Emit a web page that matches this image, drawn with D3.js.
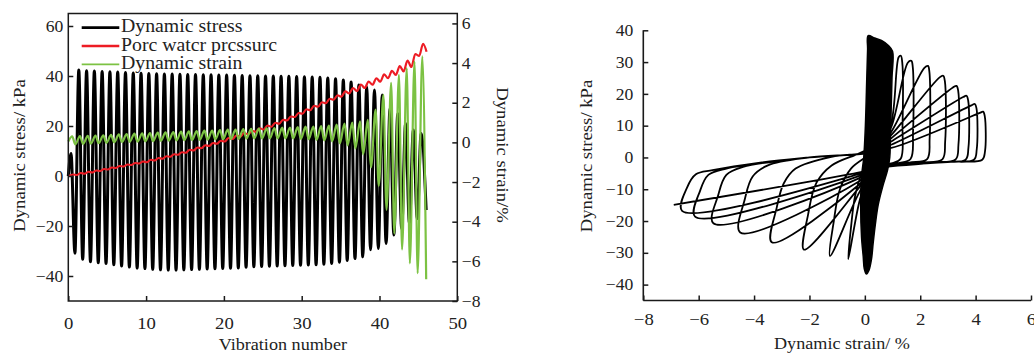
<!DOCTYPE html>
<html>
<head>
<meta charset="utf-8">
<script src="https://cdn.jsdelivr.net/npm/d3@7"></script>
<style>
  body { margin: 0; background: #fff; }
  text { font-family: "Liberation Serif", "Times New Roman", serif; fill: #222; }
</style>
</head>
<body>
<svg id="chart" width="1034" height="354"></svg>
<script>
// ---- left panel: time histories (one value per cycle) ----
const seriesNames = ['Dynamic stress', 'Porc watcr prcssurc', 'Dynamic strain'];
const seriesColors = ['#000000', '#ed1c24', '#7cc243'];

// dynamic stress (kPa): peak and trough of each vibration cycle
const stressPeak = [9, 42.4, 42.1, 42.0, 41.8, 41.7, 41.6, 41.4, 41.2, 41.1, 41.0, 40.9, 40.8, 40.8, 40.7, 40.6,
  40.6, 40.5, 40.5, 40.4, 40.4, 40.3, 40.2, 40.1, 40.1, 40.0, 40.0, 39.9, 39.9, 39.8, 39.7, 39.6, 39.5, 39.2,
  38.9, 38.4, 37.6, 36.4, 35.7, 34.4, 32.4, 27.0, 25.0, 21.0, 18.4, 17.0];
const stressTrough = [-30.9, -33.3, -34.3, -34.7, -35.0, -35.5, -36.0, -36.4, -36.8, -37.0, -37.3, -37.5, -37.6,
  -37.6, -37.5, -37.4, -37.3, -37.2, -37.1, -37.0, -36.9, -36.8, -36.5, -36.3, -36.2, -36.1, -36.0, -35.9, -35.8,
  -35.7, -35.6, -35.5, -35.3, -35.0, -34.5, -33.8, -33.0, -32.3, -29.5, -29.0, -27.0, -23.6, -21.0, -19.0, -17.0];
const stressStart = [0, 0];
const stressEnd = [46.0, -13.6];

// pore water pressure (kPa): low and high of each cycle
const poreLow = [0.0, 0.4, 0.9, 1.4, 2.0, 2.6, 3.2, 3.8, 4.4, 5.0, 5.5, 6.2, 6.9, 7.7, 8.5, 9.3, 10.2, 11.1, 12.0,
  12.9, 13.8, 14.8, 15.8, 16.7, 17.7, 18.6, 19.7, 20.9, 22.2, 23.6, 24.9, 26.3, 27.7, 29.1, 30.5, 31.7, 33.0, 34.0,
  35.2, 36.5, 37.7, 39.1, 40.4, 41.8, 43.6, 48.0];
const poreHigh = [0.6, 1.2, 1.7, 2.2, 2.8, 3.4, 4.0, 4.6, 5.2, 5.8, 6.5, 7.2, 7.9, 8.7, 9.5, 10.5, 11.4, 12.3, 13.2,
  14.1, 15.2, 16.2, 17.2, 18.1, 19.1, 20.2, 21.3, 22.5, 23.8, 25.2, 26.7, 28.1, 29.5, 30.9, 32.3, 33.9, 35.2, 36.6,
  37.8, 39.1, 40.7, 42.1, 44.0, 46.2, 48.8, 52.9];
const poreEnd = [46.05, 49.7];

// dynamic strain (%): peak and trough of each cycle
const strainPeak = [0.30, 0.32, 0.33, 0.34, 0.35, 0.38, 0.40, 0.42, 0.44, 0.45, 0.47, 0.49, 0.50, 0.52, 0.54, 0.55,
  0.57, 0.59, 0.60, 0.62, 0.64, 0.65, 0.67, 0.68, 0.70, 0.71, 0.72, 0.74, 0.75, 0.77, 0.79, 0.80, 0.82, 0.85, 0.90,
  0.95, 1.00, 1.06, 1.14, 1.65, 2.40, 3.00, 3.40, 3.75, 4.08, 4.34];
const strainTrough = [-0.10, -0.08, -0.06, -0.04, -0.02, 0.00, 0.02, 0.03, 0.04, 0.05, 0.06, 0.08, 0.09, 0.10, 0.11,
  0.12, 0.13, 0.14, 0.15, 0.16, 0.17, 0.18, 0.19, 0.20, 0.20, 0.20, 0.20, 0.20, 0.20, 0.18, 0.16, 0.13, 0.10, 0.05,
  -0.05, -0.15, -0.30, -0.60, -1.26, -2.20, -3.40, -4.60, -5.40, -6.10, -6.60];
const strainStart = [0, 0.05];
const strainEnd = [46.0, -6.9];

const vibTicks = [0, 10, 20, 30, 40, 50];
const stressTicks = [-40, -20, 0, 20, 40, 60];
const strainTicks = [-8, -6, -4, -2, 0, 2, 4, 6];

// ---- right panel: stress-strain hysteresis ----
// outline of the dense early cycles
const coreLoops = [[0.12, 38.3], [0.35, 37.6], [0.6, 36.8], [0.85, 35.2], [1.0, 33.4], [0.98, 25], [0.95, 15],
  [0.92, 5], [0.9, 0], [0.82, -4], [0.65, -9], [0.48, -15], [0.38, -21], [0.3, -27], [0.24, -32], [0.15, -35.5],
  [0.06, -36.7], [-0.02, -35], [-0.06, -31], [-0.12, -25], [-0.15, -15], [-0.12, -6], [-0.04, 0], [0.02, 10],
  [0.07, 25], [0.1, 34]];
// later large cycles, [strain %, stress kPa] in time order
const loopPath = [
  [0.4, 5], [0.2, -3], [-0.2, -14], [-0.6, -32],
  [-0.5, -22], [-0.35, -12], [-0.1, -5], [0.3, 0], [0.6, 6],
  [0.95, 11], [1.22, 31.5], [1.3, 32], [1.35, 30], [1.36, 10], [1.3, -0.3], [1.0, -1.8], [0.4, -3],
  [-0.2, -11], [-1.26, -31],
  [-1.12, -20], [-0.9, -10], [-0.5, -3.5], [0.2, 1.2], [0.6, 5],
  [0.95, 9.5], [1.55, 29.8], [1.68, 30.4], [1.73, 28.5], [1.74, 8], [1.65, -0.5], [1.2, -1.8], [0.4, -3],
  [-0.2, -9.4], [-2.2, -29],
  [-2.05, -18], [-1.75, -8], [-1.2, -2.5], [-0.2, 1.3], [0.6, 4.5],
  [0.95, 8], [2.15, 28.2], [2.28, 28.8], [2.33, 27], [2.34, 6], [2.25, -0.5], [1.6, -1.6], [0.4, -3],
  [-0.2, -8.5], [-3.36, -26.7],
  [-3.18, -15.7], [-2.93, -8.2], [-2.5, -3.5], [-1.2, 0.2], [0.2, 1.6], [0.6, 4],
  [0.95, 7], [2.7, 25.2], [2.83, 25.7], [2.89, 24], [2.9, 5], [2.8, -0.6], [2.0, -1.6], [0.4, -3.2],
  [-0.2, -7.5], [-4.5, -23.6],
  [-4.33, -13], [-4.05, -6], [-3.5, -2.5], [-2, 0], [0.2, 1.6], [0.6, 3.5],
  [0.95, 6], [3.18, 22], [3.31, 22.5], [3.37, 21], [3.38, 4], [3.28, -0.6], [2.4, -1.5], [0.4, -3.2],
  [-0.2, -6.5], [-5.47, -20.7],
  [-5.3, -12], [-5.0, -5.5], [-4.4, -3], [-2, 0], [0.2, 1.6], [0.6, 3.2],
  [0.95, 5], [3.55, 19], [3.67, 19.4], [3.73, 18], [3.74, 3], [3.64, -0.7], [2.8, -1.4], [0.4, -3.2],
  [-0.2, -5.8], [-6.13, -18.6],
  [-5.95, -10.5], [-5.65, -5.5], [-5.0, -3.5], [-2, 0], [0.2, 1.6], [0.6, 3],
  [0.95, 4], [3.85, 16.4], [3.97, 16.8], [4.03, 15.5], [4.04, 2.5], [3.94, -0.7], [3.0, -1.4], [0.4, -3.3],
  [-0.2, -5.2], [-6.6, -16.8],
  [-6.42, -9.5], [-6.1, -5.3], [-5.5, -4], [-3.78, -1.6], [-2, 0], [0.2, 1.6], [0.6, 3],
  [0.95, 3], [4.15, 14], [4.27, 14.4], [4.33, 13], [4.34, 2], [4.24, -0.7], [3.2, -1.3], [0.4, -3.4],
  [-0.2, -4.7], [-6.9, -14.9]
];
const hystStressTicks = [-40, -30, -20, -10, 0, 10, 20, 30, 40];
const hystStrainTicks = [-8, -6, -4, -2, 0, 2, 4, 6];

// phase of the turning points inside one cycle
const PEAK_AT = 0.35, TROUGH_AT = 0.85;
const SX = 1.1; // text is a bit wider than plain Times

const svg = d3.select('#chart');

function addText(g, x, y, str, size, anchor, rot) {
  return g.append('text')
    .attr('transform', `translate(${x},${y}) rotate(${rot || 0}) scale(${SX},1)`)
    .attr('text-anchor', anchor || 'start')
    .style('font-size', size + 'px')
    .text(str);
}

function styleAxis(g, size) {
  g.attr('font-size', null).attr('font-family', null);
  g.select('.domain').remove();
  g.selectAll('.tick line').attr('stroke', '#1a1a1a').attr('stroke-width', 1.5);
  g.selectAll('.tick text').attr('fill', '#222').style('font-size', size + 'px')
    .each(function () {
      const t = d3.select(this);
      t.attr('x', (+t.attr('x') || 0) / SX).attr('transform', `scale(${SX},1)`);
    });
}

// ================= left panel =================
const x = d3.scaleLinear().domain([0, 50]).range([68.3, 457.3]);
const yL = d3.scaleLinear().domain([-50, 65]).range([301, 13.5]);
const yR = d3.scaleLinear().domain([-8, 6.5]).range([301, 13.5]);

const left = svg.append('g');

// build turning point sequences
const stressPts = [stressStart];
stressPeak.forEach((v, k) => {
  stressPts.push([k + PEAK_AT, v]);
  if (k < stressTrough.length) stressPts.push([k + TROUGH_AT, stressTrough[k]]);
});
stressPts.push(stressEnd);

const porePts = [];
poreLow.forEach((v, k) => {
  porePts.push([k + 0.1, v]);
  porePts.push([k + 0.6, poreHigh[k]]);
});
porePts.push(poreEnd);

const strainPts = [strainStart];
strainPeak.forEach((v, k) => {
  strainPts.push([k + 0.5, v]);
  if (k < strainTrough.length) strainPts.push([k + 0.9, strainTrough[k]]);
});
strainPts.push(strainEnd);

const lineL = d3.line().x(d => x(d[0])).y(d => yL(d[1])).curve(d3.curveMonotoneX);
const lineR = d3.line().x(d => x(d[0])).y(d => yR(d[1])).curve(d3.curveMonotoneX);

left.append('path').attr('d', lineL(stressPts)).attr('fill', 'none')
  .attr('stroke', seriesColors[0]).attr('stroke-width', 3).attr('stroke-linejoin', 'round');
left.append('path').attr('d', lineL(porePts)).attr('fill', 'none')
  .attr('stroke', seriesColors[1]).attr('stroke-width', 2.2);
left.append('path').attr('d', lineR(strainPts)).attr('fill', 'none')
  .attr('stroke', seriesColors[2]).attr('stroke-width', 2.2);

// frame
left.append('rect').attr('x', x(0)).attr('y', yL(65)).attr('width', x(50) - x(0)).attr('height', yL(-50) - yL(65))
  .attr('fill', 'none').attr('stroke', '#1a1a1a').attr('stroke-width', 1.5);

const axB = left.append('g').attr('transform', `translate(0,${yL(-50)})`)
  .call(d3.axisBottom(x).tickValues(vibTicks).tickSize(-5).tickSizeOuter(0));
styleAxis(axB, 17);
axB.selectAll('.tick text').attr('dy', null).attr('y', 28);

const axL = left.append('g').attr('transform', `translate(${x(0)},0)`)
  .call(d3.axisLeft(yL).tickValues(stressTicks).tickSize(-5).tickPadding(5).tickSizeOuter(0));
styleAxis(axL, 16);

const axR = left.append('g').attr('transform', `translate(${x(50)},0)`)
  .call(d3.axisRight(yR).tickValues(strainTicks).tickSize(-5).tickPadding(4.5).tickSizeOuter(0));
styleAxis(axR, 16);

addText(left, (x(0) + x(50)) / 2 + 20, 350, 'Vibration number', 16.5, 'middle');
addText(left, 25, 155.5, 'Dynamic stress/ kPa', 17, 'middle', -90);
addText(left, 497, 155, 'Dynamic strain/%', 17, 'middle', 90);

// legend
seriesNames.forEach((name, i) => {
  const ly = 27.7 + i * 18.3;
  left.append('line').attr('x1', 81.7).attr('x2', 119.3).attr('y1', ly).attr('y2', ly)
    .attr('stroke', seriesColors[i]).attr('stroke-width', [2.7, 2.3, 1.8][i]);
  addText(left, 121, ly + 4.6, name, 18, 'start');
});

// ================= right panel =================
const xs = d3.scaleLinear().domain([-8, 6]).range([643.3, 1031]);
const ys = d3.scaleLinear().domain([-45, 40]).range([300.5, 30.3]);

const right = svg.append('g');

right.append('path')
  .attr('d', d3.line().x(d => xs(d[0])).y(d => ys(d[1])).curve(d3.curveCatmullRomClosed.alpha(0.5))(coreLoops))
  .attr('fill', '#000').attr('stroke', '#000').attr('stroke-width', 1.5);

right.append('path')
  .attr('d', d3.line().x(d => xs(d[0])).y(d => ys(d[1])).curve(d3.curveCatmullRom.alpha(0.5))(loopPath))
  .attr('fill', 'none').attr('stroke', '#000').attr('stroke-width', 1.8).attr('stroke-linejoin', 'round');

right.append('line').attr('x1', xs(-8)).attr('x2', xs(-8)).attr('y1', ys(40)).attr('y2', ys(-45))
  .attr('stroke', '#1a1a1a').attr('stroke-width', 1.6);
right.append('line').attr('x1', xs(-8)).attr('x2', xs(6)).attr('y1', ys(-45)).attr('y2', ys(-45))
  .attr('stroke', '#1a1a1a').attr('stroke-width', 1.6);

const axSB = right.append('g').attr('transform', `translate(0,${ys(-45)})`)
  .call(d3.axisBottom(xs).tickValues(hystStrainTicks).tickSize(-5).tickSizeOuter(0));
styleAxis(axSB, 17);
axSB.selectAll('.tick text').attr('dy', null).attr('y', 25);

const axSL = right.append('g').attr('transform', `translate(${xs(-8)},0)`)
  .call(d3.axisLeft(ys).tickValues(hystStressTicks).tickSize(-5).tickPadding(10).tickSizeOuter(0));
styleAxis(axSL, 16);

addText(right, 842, 349, 'Dynamic strain/ %', 16.5, 'middle');
addText(right, 592, 156, 'Dynamic stress/ kPa', 17, 'middle', -90);
</script>
</body>
</html>
